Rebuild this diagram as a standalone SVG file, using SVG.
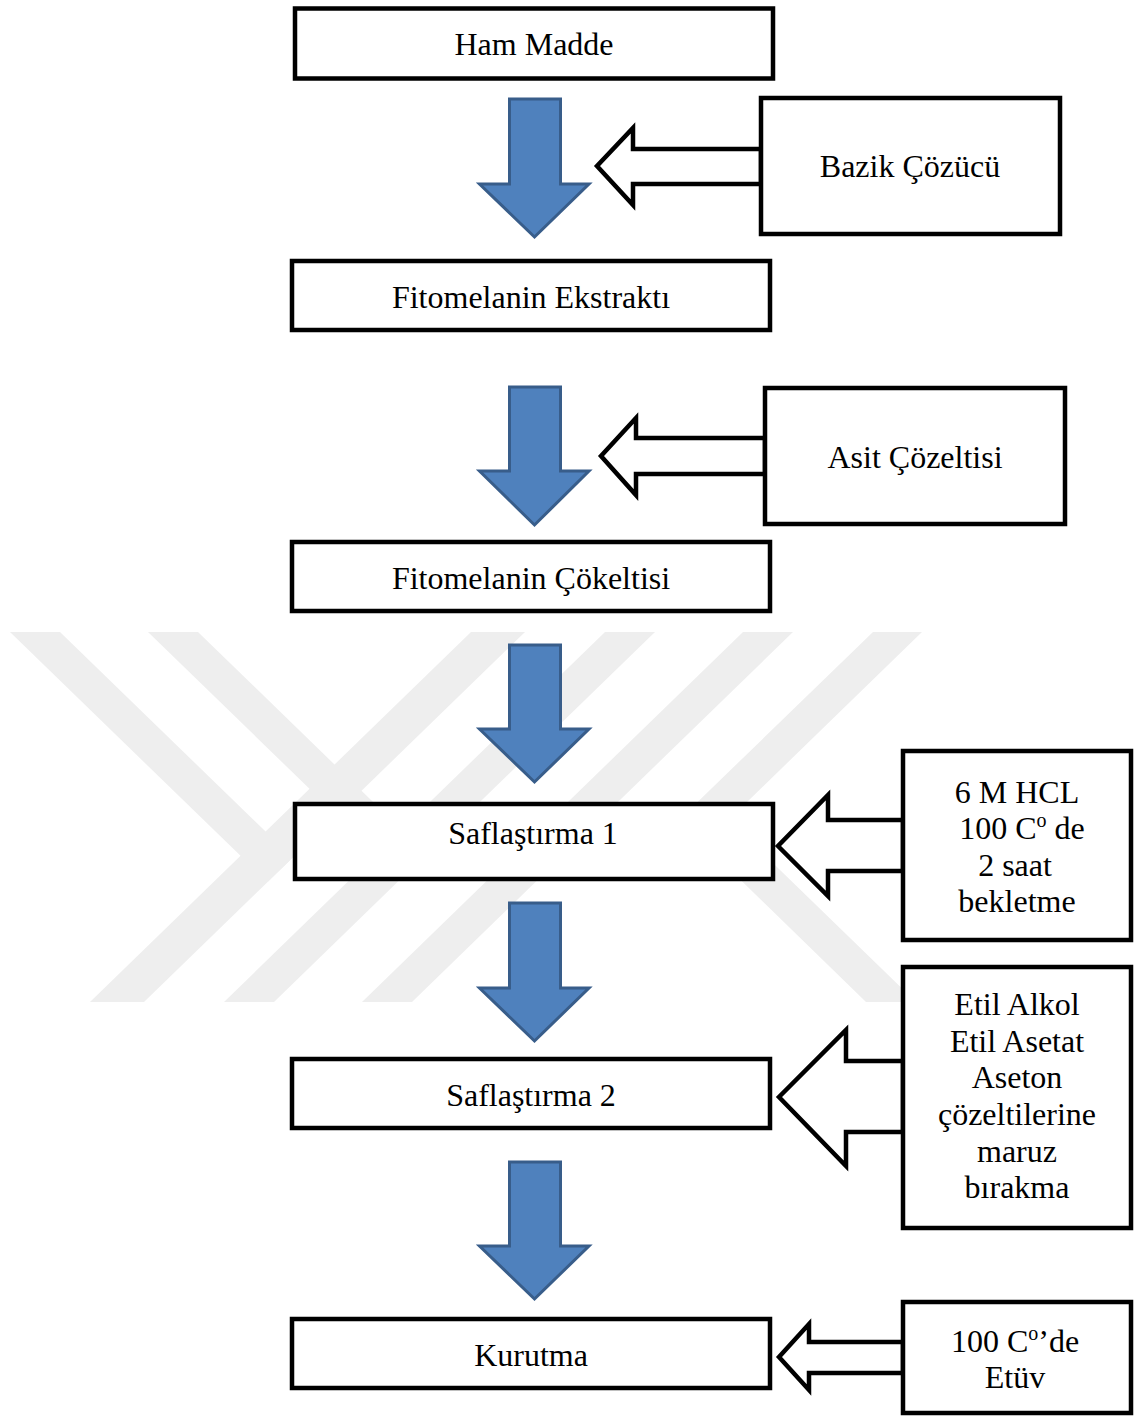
<svg xmlns="http://www.w3.org/2000/svg" width="1134" height="1418" viewBox="0 0 1134 1418">
<style>
.wm{fill:#eeeeee}
.box{fill:#ffffff;stroke:#000000;stroke-width:4.5}
.t{font-family:"Liberation Serif","Times New Roman",serif;font-size:32px;fill:#000000;text-anchor:middle}
.blue{fill:#4f81bd;stroke:#385d8a;stroke-width:3;stroke-linejoin:miter}
.hollow{fill:#ffffff;stroke:#000000;stroke-width:4.5;stroke-linejoin:miter;stroke-miterlimit:10}
</style>
<rect width="1134" height="1418" fill="#ffffff"/>
<g id="watermark">
<polygon class="wm" points="10,632 60,632 292.6,857.8 267.5,882"/>
<polygon class="wm" points="148,632 198,632 426.6,853.9 401.6,878.2"/>
<polygon class="wm" points="471,632 525,632 144,1002 90,1002"/>
<polygon class="wm" points="605,632 655,632 274,1002 224,1002"/>
<polygon class="wm" points="743,632 793,632 412,1002 362,1002"/>
<polygon class="wm" points="873,632 922,632 728.5,820 916,1002 866,1002 679,820"/>
</g>
<g id="connectors">
<polygon class="blue" points="509.5,99 560.5,99 560.5,184 589,184 534.5,237 479.5,184 509.5,184"/>
<polygon class="blue" points="509.5,387 560.5,387 560.5,471 589,471 534.5,525 479.5,471 509.5,471"/>
<polygon class="blue" points="509.5,645 560.5,645 560.5,729 589,729 534.5,782 479.5,729 509.5,729"/>
<polygon class="blue" points="509.5,903 560.5,903 560.5,988 589,988 534.5,1041 479.5,988 509.5,988"/>
<polygon class="blue" points="509.5,1162 560.5,1162 560.5,1246 589,1246 534.5,1299 479.5,1246 509.5,1246"/>
<polygon class="hollow" points="761,149 633,149 633,128 597,166 633,205 633,184 761,184"/>
<polygon class="hollow" points="765,438 636,438 636,418 601,456 636,495 636,474 765,474"/>
<polygon class="hollow" points="903,820 828,820 828,795 778,846 828,896 828,871 903,871"/>
<polygon class="hollow" points="903,1061 846,1061 846,1030 779,1097 846,1166 846,1132 903,1132"/>
<polygon class="hollow" points="903,1342 809,1342 809,1324 779,1357 809,1390 809,1373 903,1373"/>
</g>
<g id="ham-madde">
<rect class="box" x="295" y="8.5" width="478" height="70"/>
<text class="t" x="534" y="55">Ham Madde</text>
</g>
<g id="bazik-cozucu">
<rect class="box" x="761" y="98" width="299" height="136"/>
<text class="t" x="910" y="177">Bazik Çözücü</text>
</g>
<g id="fitomelanin-ekstrakti">
<rect class="box" x="292" y="261" width="478" height="69"/>
<text class="t" x="531" y="308">Fitomelanin Ekstraktı</text>
</g>
<g id="asit-cozeltisi">
<rect class="box" x="765" y="388" width="300" height="136"/>
<text class="t" x="915" y="468">Asit Çözeltisi</text>
</g>
<g id="fitomelanin-cokeltisi">
<rect class="box" x="292" y="542" width="478" height="69"/>
<text class="t" x="531" y="589">Fitomelanin Çökeltisi</text>
</g>
<g id="saflastirma-1">
<rect class="box" x="295" y="804" width="478" height="75"/>
<text class="t" x="533" y="844">Saflaştırma 1</text>
</g>
<g id="hcl">
<rect class="box" x="903" y="751" width="228" height="189"/>
<text class="t" x="1017" y="803">6 M HCL</text>
<text class="t" x="1022" y="839">100 C<tspan font-size="20" dy="-12">o</tspan><tspan dy="12"> de</tspan></text>
<text class="t" x="1015" y="876">2 saat</text>
<text class="t" x="1017" y="912">bekletme</text>
</g>
<g id="saflastirma-2">
<rect class="box" x="292" y="1059" width="478" height="69"/>
<text class="t" x="531" y="1106">Saflaştırma 2</text>
</g>
<g id="solvents">
<rect class="box" x="903" y="967" width="228" height="261"/>
<text class="t" x="1017" y="1015">Etil Alkol</text>
<text class="t" x="1017" y="1052">Etil Asetat</text>
<text class="t" x="1017" y="1088">Aseton</text>
<text class="t" x="1017" y="1125">çözeltilerine</text>
<text class="t" x="1017" y="1162">maruz</text>
<text class="t" x="1017" y="1198">bırakma</text>
</g>
<g id="kurutma">
<rect class="box" x="292" y="1319" width="478" height="69"/>
<text class="t" x="531" y="1366">Kurutma</text>
</g>
<g id="etuv">
<rect class="box" x="903" y="1302" width="228" height="111"/>
<text class="t" x="1015" y="1352">100 C<tspan font-size="20" dy="-12">o</tspan><tspan dy="12">’de</tspan></text>
<text class="t" x="1015" y="1388">Etüv</text>
</g>
</svg>
